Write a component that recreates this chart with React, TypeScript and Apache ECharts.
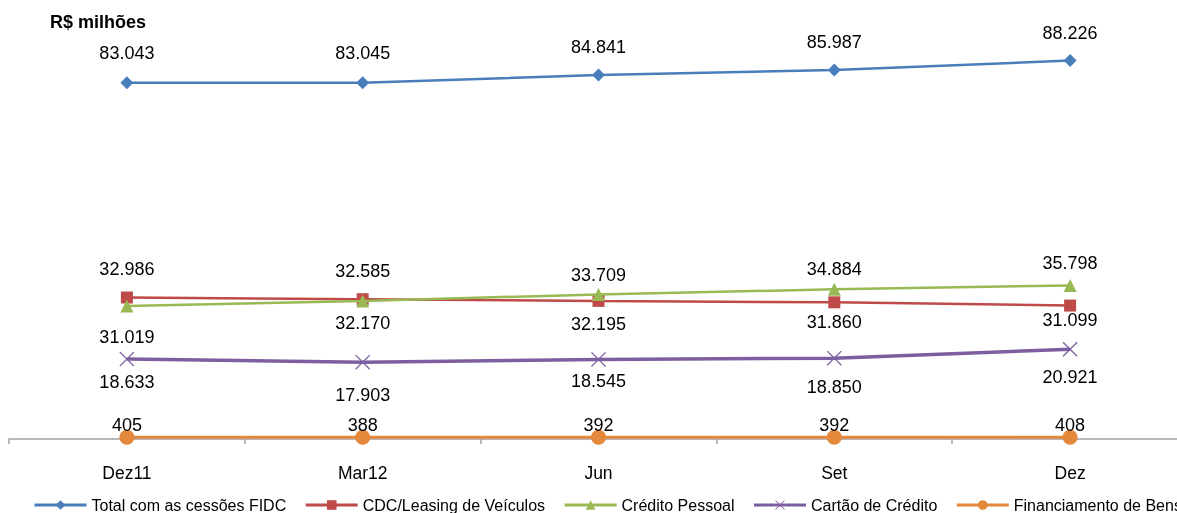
import React, { useEffect, useRef } from "react";
import * as echarts from "echarts";

const categories = ["Dez11", "Mar12", "Jun", "Set", "Dez"];
const totalFidc = [83043, 83045, 84841, 85987, 88226];
const cdcLeasing = [32986, 32585, 32195, 31860, 31099];
const creditoPessoal = [31019, 32170, 33709, 34884, 35798];
const cartaoCredito = [18633, 17903, 18545, 18850, 20921];
const financiamentoBens = [405, 388, 392, 392, 408];

const seriesNames = [
  "Total com as cessões FIDC",
  "CDC/Leasing de Veículos",
  "Crédito Pessoal",
  "Cartão de Crédito",
  "Financiamento de Bens",
];

// label placement (styling only)
const cdcLabelPos = ["top", "top", "bottom", "bottom", "bottom"];
const cdcLabelDist = [13, 13, 8, 5, -1];
const creditoLabelPos = ["bottom", "bottom", "top", "top", "top"];
const creditoLabelDist = [16, 7, 4, 5, 7];
const cartaoLabelDist = [6, 16, 5, 12, 11];
const totalLabelDist = [14, 14, 13, 13, 12];

const fmt = (v: number) => v.toLocaleString("de-DE");

const FONT = "'Liberation Sans', Arial, sans-serif";

const X_PATH =
  "path://M0,1.2 L1.2,0 L10,8.8 L18.8,0 L20,1.2 L11.2,10 L20,18.8 L18.8,20 L10,11.2 L1.2,20 L0,18.8 L8.8,10 Z";

export default function App() {
  const ref = useRef<HTMLDivElement>(null);
  useEffect(() => {
    if (!ref.current) return;
    const chart = echarts.init(ref.current, undefined, { renderer: "svg" });
    const baseLabel = {
      show: true,
      fontSize: 18,
      color: "#000",
      fontFamily: FONT,
      formatter: (p: any) => fmt(p.value),
    };
    const mk = (
      vals: number[],
      pos: (i: number) => string,
      dist: (i: number) => number
    ) =>
      vals.map((v, i) => ({
        value: v,
        label: { position: pos(i), distance: dist(i) },
      }));
    chart.setOption({
      animation: false,
      textStyle: { fontFamily: FONT },
      title: {
        text: "R$ milhões",
        left: 45,
        top: 8,
        textStyle: { fontSize: 18, fontWeight: "bold", color: "#000", fontFamily: FONT },
      },
      legend: {
        left: 28,
        top: 492,
        width: 1500,
        itemWidth: 52,
        itemHeight: 12,
        itemGap: 18,
        lineStyle: { width: 3 },
        textStyle: { fontSize: 16, color: "#000", fontFamily: FONT },
        data: seriesNames,
      },
      grid: { left: 9, right: 2, top: 10, bottom: 74, containLabel: false },
      xAxis: {
        type: "category",
        data: categories,
        boundaryGap: true,
        axisLine: { lineStyle: { color: "#A0A0A0", width: 1.5 } },
        axisTick: { show: true, length: 5, lineStyle: { color: "#A0A0A0", width: 1.5 } },
        axisLabel: { fontSize: 17.5, color: "#000", margin: 25, fontFamily: FONT },
      },
      yAxis: {
        type: "value",
        min: 0,
        max: 100000,
        show: false,
        splitLine: { show: false },
      },
      series: [
        {
          name: seriesNames[0],
          type: "line",
          data: mk(totalFidc, () => "top", (i) => totalLabelDist[i]),
          symbol: "diamond",
          symbolSize: 13,
          lineStyle: { color: "#4A7EBB", width: 2.5 },
          itemStyle: { color: "#4A7EBB" },
          label: baseLabel,
          z: 5,
        },
        {
          name: seriesNames[1],
          type: "line",
          data: mk(cdcLeasing, (i) => cdcLabelPos[i], (i) => cdcLabelDist[i]),
          symbol: "rect",
          symbolSize: 12,
          lineStyle: { color: "#BE4B48", width: 2.5 },
          itemStyle: { color: "#BE4B48" },
          label: baseLabel,
          z: 3,
        },
        {
          name: seriesNames[2],
          type: "line",
          data: mk(creditoPessoal, (i) => creditoLabelPos[i], (i) => creditoLabelDist[i]),
          symbol: "triangle",
          symbolSize: 13,
          lineStyle: { color: "#98B954", width: 2.5 },
          itemStyle: { color: "#98B954" },
          label: baseLabel,
          z: 4,
        },
        {
          name: seriesNames[3],
          type: "line",
          data: mk(cartaoCredito, () => "bottom", (i) => cartaoLabelDist[i]),
          symbol: X_PATH,
          symbolSize: 15,
          lineStyle: { color: "#7D5FA0", width: 3.5 },
          itemStyle: { color: "#7D5FA0" },
          label: baseLabel,
          z: 3,
        },
        {
          name: seriesNames[4],
          type: "line",
          data: mk(financiamentoBens, () => "top", () => -4),
          symbol: "circle",
          symbolSize: 15,
          lineStyle: { color: "#E4883C", width: 3 },
          itemStyle: { color: "#E4883C" },
          label: baseLabel,
          z: 6,
        },
      ],
    });
    return () => chart.dispose();
  }, []);
  return (
    <div
      ref={ref}
      style={{ position: "fixed", left: 0, top: 0, width: 1190, height: 513 }}
    />
  );
}
